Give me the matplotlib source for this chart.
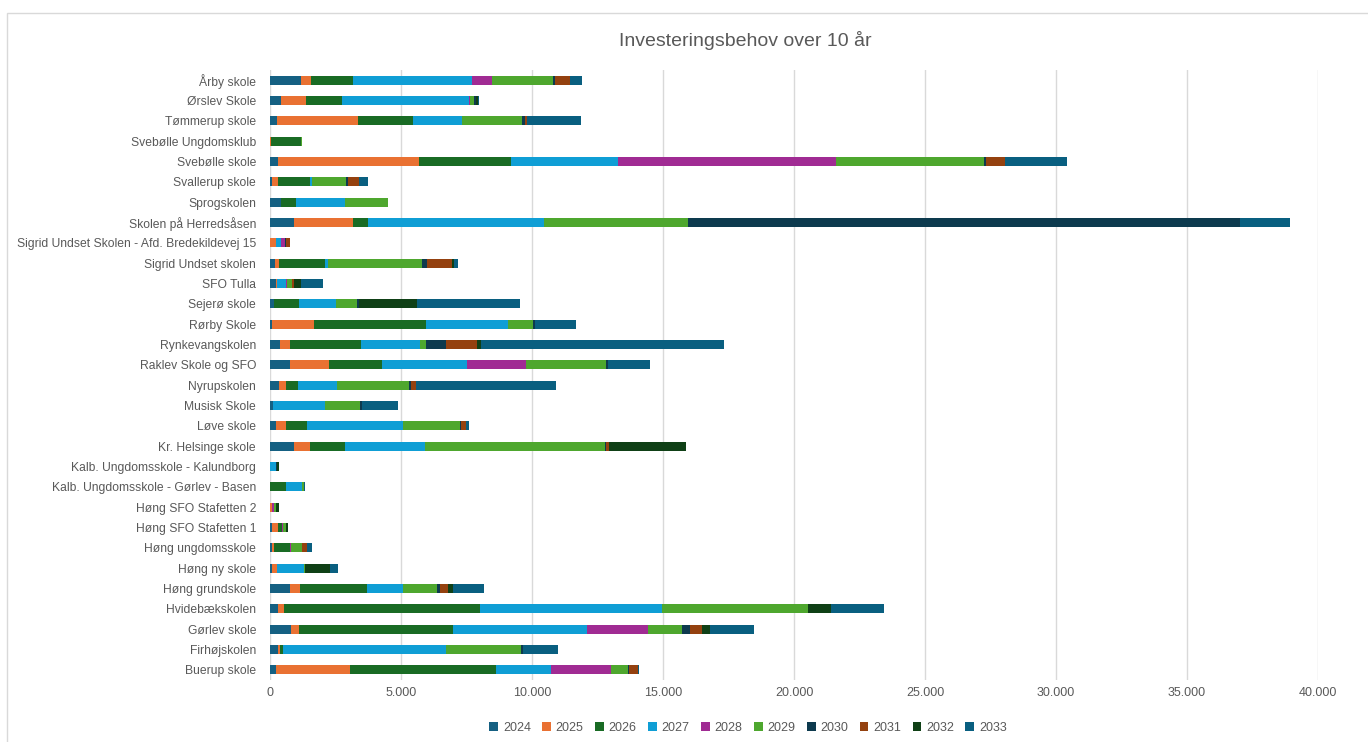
import matplotlib
matplotlib.use("Agg")
import matplotlib.pyplot as plt
from matplotlib.ticker import FuncFormatter, MultipleLocator
from matplotlib.patches import Rectangle

# Schools, listed bottom to top as they appear in the chart
schools = [
    "Buerup skole", "Firhøjskolen", "Gørlev skole", "Hvidebækskolen",
    "Høng grundskole", "Høng ny skole", "Høng ungdomsskole",
    "Høng SFO Stafetten 1", "Høng SFO Stafetten 2",
    "Kalb. Ungdomsskole - Gørlev - Basen", "Kalb. Ungdomsskole - Kalundborg",
    "Kr. Helsinge skole", "Løve skole", "Musisk Skole", "Nyrupskolen",
    "Raklev Skole og SFO", "Rynkevangskolen", "Rørby Skole", "Sejerø skole",
    "SFO Tulla", "Sigrid Undset skolen",
    "Sigrid Undset Skolen - Afd. Bredekildevej 15", "Skolen på Herredsåsen",
    "Sprogskolen", "Svallerup skole", "Svebølle skole",
    "Svebølle Ungdomsklub", "Tømmerup skole", "Ørslev Skole", "Årby skole",
]

years = ["2024", "2025", "2026", "2027", "2028", "2029", "2030", "2031", "2032", "2033"]

y2024 = [217, 293, 803, 318, 752, 76, 64, 76, 0, 0, 0, 917, 229, 127, 344,
         777, 382, 76, 140, 217, 191, 0, 916, 420, 76, 293, 0, 267, 407, 1196]
y2025 = [2854, 89, 319, 217, 395, 191, 89, 229, 89, 0, 0, 599, 382, 0, 268,
         1478, 369, 1605, 0, 64, 153, 229, 2239, 0, 216, 5406, 50, 3091, 967, 369]
y2026 = [5567, 115, 5873, 7478, 2561, 0, 599, 153, 0, 612, 0, 1363, 815, 0, 459,
         2038, 2726, 4255, 955, 0, 1771, 0, 585, 572, 1221, 3511, 1119, 2099, 1361, 1590]
y2027 = [2102, 6204, 5109, 6956, 1350, 1019, 0, 0, 0, 599, 217, 3045, 3669, 1987, 1503,
         3236, 2230, 3147, 1440, 331, 102, 204, 6729, 1857, 76, 4058, 0, 1870, 4872, 4554]
y2028 = [2268, 0, 2331, 0, 0, 0, 51, 51, 51, 0, 0, 0, 0, 0, 0,
         2242, 0, 0, 0, 38, 0, 140, 0, 0, 0, 8323, 0, 0, 25, 750]
y2029 = [650, 2892, 1299, 5560, 1299, 51, 420, 89, 76, 76, 0, 6854, 2153, 1325, 2714,
         3070, 255, 968, 790, 178, 3593, 0, 5482, 1666, 1310, 5670, 64, 2290, 140, 2340]
y2030 = [51, 64, 280, 0, 140, 0, 0, 0, 0, 0, 64, 64, 51, 89, 89,
         64, 764, 51, 64, 0, 191, 20, 21089, 0, 64, 60, 0, 115, 100, 89]
y2031 = [344, 0, 489, 0, 306, 0, 204, 0, 0, 0, 0, 89, 191, 0, 204,
         0, 1185, 0, 0, 76, 955, 160, 0, 0, 432, 730, 0, 89, 0, 547]
y2032 = [0, 0, 283, 880, 191, 968, 0, 76, 115, 0, 51, 2930, 0, 0, 0,
         0, 140, 0, 2217, 293, 76, 0, 0, 0, 0, 0, 0, 0, 80, 0]
y2033 = [38, 1325, 1685, 2040, 1159, 306, 166, 25, 25, 51, 0, 0, 89, 1363, 5325,
         1605, 9284, 1593, 3924, 841, 153, 20, 1910, 0, 331, 2370, 0, 2035, 40, 471]

series = [y2024, y2025, y2026, y2027, y2028, y2029, y2030, y2031, y2032, y2033]
colors = ["#156082", "#E97132", "#196B24", "#0F9ED5", "#A02B93",
          "#4EA72E", "#0D3A4E", "#94410F", "#0F4016", "#095F80"]

plt.rcParams["font.family"] = ["Liberation Sans", "DejaVu Sans"]

fig = plt.figure(figsize=(13.68, 7.42), dpi=100)
ax = fig.add_axes([270 / 1368, 1 - 680 / 742, 1048 / 1368, 610 / 742])

# Stacked horizontal bars
pos = list(range(len(schools)))
left = [0] * len(schools)
for name, vals, col in zip(years, series, colors):
    ax.barh(pos, vals, left=left, height=0.44, color=col, label=name, zorder=3)
    left = [a + b for a, b in zip(left, vals)]

ax.set_xlim(0, 40000)
ax.set_ylim(-0.5, len(schools) - 0.5)
ax.set_yticks(pos)
ax.set_yticklabels(schools)
ax.xaxis.set_major_locator(MultipleLocator(5000))
ax.xaxis.set_major_formatter(FuncFormatter(lambda v, p: f"{int(v):,}".replace(",", ".")))
ax.tick_params(axis="both", length=0, labelsize=9, colors="#595959")
ax.tick_params(axis="y", labelsize=8.7, pad=10)
ax.tick_params(axis="x", pad=5)
ax.grid(axis="x", color="#D9D9D9", linewidth=1, zorder=0)
for s in ax.spines.values():
    s.set_visible(False)

# Chart border and title
fig.patches.append(Rectangle((7 / 1368, -0.01), 1.0, 1 - 13 / 742 + 0.01,
                             transform=fig.transFigure, fill=False,
                             edgecolor="#D9D9D9", linewidth=1))
fig.text(745 / 1368, 1 - 40 / 742, "Investeringsbehov over 10 år",
         ha="center", va="center", fontsize=14, color="#595959")

handles, labels = ax.get_legend_handles_labels()
fig.legend(handles, labels, loc="center", bbox_to_anchor=(748 / 1368, 1 - 728 / 742),
           ncol=10, frameon=False, fontsize=9, handlelength=0.7, handleheight=0.7,
           handletextpad=0.4, columnspacing=0.9, labelcolor="#595959")

fig.savefig("out.png", dpi=100)
